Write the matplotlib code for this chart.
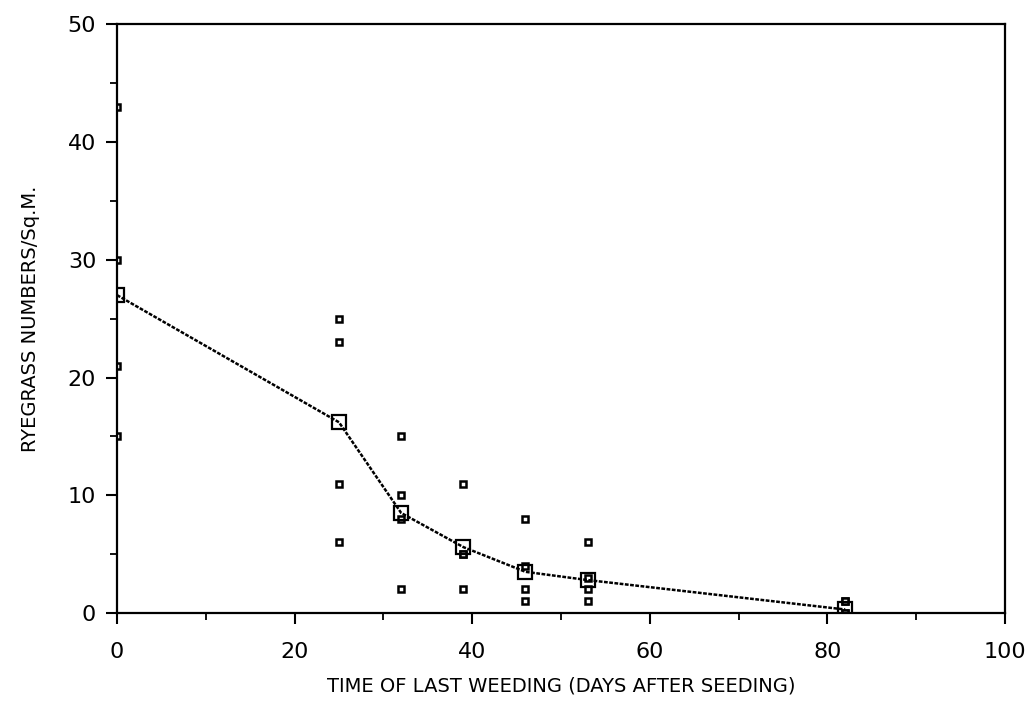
import matplotlib.pyplot as plt
import numpy as np

# Weeding time (days after seeding) and ryegrass counts per plot
days = [0, 25, 32, 39, 46, 53, 82]
plot_counts = [
    [43, 30, 21, 15],
    [25, 23, 11, 6],
    [15, 10, 8, 2],
    [11, 5, 5, 2],
    [8, 4, 2, 1],
    [6, 3, 2, 1],
    [1, 0, 1, 0],
]
mean_counts = [27, 16.2, 8.5, 5.6, 3.5, 2.8, 0.3]

fig = plt.figure(figsize=(10.29, 7.11), dpi=100)
ax = fig.add_axes([0.1137, 0.1378, 0.863, 0.828])

# individual plots
for d, counts in zip(days, plot_counts):
    ax.plot([d] * len(counts), counts, linestyle='none', marker='s',
            markersize=5, markerfacecolor='white', markeredgecolor='black',
            markeredgewidth=1.8)

# treatment means joined by a line
ax.plot(days, mean_counts, color='black', linewidth=1.8, linestyle=(0, (1.5, 0.6)))
ax.plot(days, mean_counts, linestyle='none', marker='s', markersize=10,
        markerfacecolor='none', markeredgecolor='black', markeredgewidth=1.6)

ax.set_xlim(0, 100)
ax.set_ylim(0, 50)
ax.set_xticks(np.arange(0, 101, 20))
ax.set_xticks(np.arange(0, 101, 10), minor=True)
ax.set_yticks(np.arange(0, 51, 10))
ax.set_yticks(np.arange(0, 51, 5), minor=True)
ax.tick_params(which='major', length=8, width=1.5, labelsize=16, direction='out')
ax.tick_params(axis='x', which='major', pad=13)
ax.tick_params(axis='y', which='major', pad=7)
ax.tick_params(which='minor', length=5, width=1.3, direction='out')
for s in ax.spines.values():
    s.set_linewidth(1.6)

ax.set_xlabel('TIME OF LAST WEEDING (DAYS AFTER SEEDING)', fontsize=14, labelpad=10)
ax.set_ylabel('RYEGRASS NUMBERS/Sq.M.', fontsize=14, labelpad=20)

fig.savefig('out.png', dpi=100)
